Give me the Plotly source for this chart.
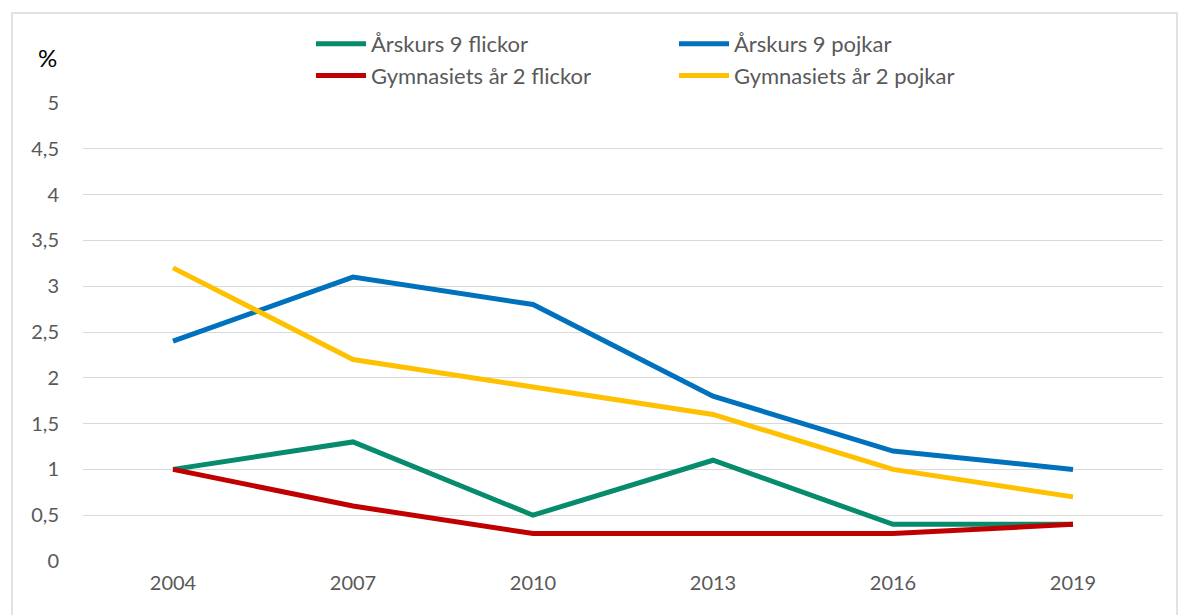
import plotly.graph_objects as go

years = ["2004", "2007", "2010", "2013", "2016", "2019"]
ak9_flickor = [1.0, 1.3, 0.5, 1.1, 0.4, 0.4]
ak9_pojkar = [2.4, 3.1, 2.8, 1.8, 1.2, 1.0]
gy2_flickor = [1.0, 0.6, 0.3, 0.3, 0.3, 0.4]
gy2_pojkar = [3.2, 2.2, 1.9, 1.6, 1.0, 0.7]

series = [
    ("Årskurs 9 flickor", ak9_flickor, "#068B6C"),
    ("Årskurs 9 pojkar", ak9_pojkar, "#0071BC"),
    ("Gymnasiets år 2 flickor", gy2_flickor, "#C00000"),
    ("Gymnasiets år 2 pojkar", gy2_pojkar, "#FFC000"),
]

W, H = 1178, 615
L, R, T, B = 83, 15, 103, 54
FONT = "Lato"

fig = go.Figure()
for name, vals, col in series:
    fig.add_trace(go.Scatter(x=years, y=vals, name=name, mode="lines",
                             line=dict(color=col, width=5)))

pw = W - L - R
ph = H - T - B
def px_x(x):
    return (x - L) / pw
def px_y(y):
    return (H - B - y) / ph

fig.update_layout(
    width=W, height=H,
    margin=dict(l=L, r=R, t=T, b=B, autoexpand=False),
    paper_bgcolor="white", plot_bgcolor="white",
    font=dict(family=FONT, color="#595959", size=20),
    showlegend=True,
    legend=dict(orientation="h", x=px_x(311), y=px_y(23), xanchor="left", yanchor="top",
                entrywidth=298, entrywidthmode="pixels", itemwidth=50,
                font=dict(size=22, color="#595959", family=FONT),
                tracegroupgap=0, bgcolor="rgba(0,0,0,0)"),
    xaxis=dict(type="category", range=[-0.5, 5.5], showgrid=False, zeroline=False, showline=False,
               ticks="", tickfont=dict(size=20, color="#595959"), ticklabelstandoff=8),
    yaxis=dict(range=[0, 5], dtick=0.5, showgrid=True, gridcolor="#D9D9D9", gridwidth=1,
               zeroline=False, showline=False, ticks="",
               tickformat=".1~f", tickfont=dict(size=20, color="#595959"), ticklabelstandoff=23),
    separators=", ",
    shapes=[dict(type="rect", xref="paper", yref="paper",
                 x0=px_x(12), x1=px_x(1177), y0=px_y(630), y1=px_y(13),
                 line=dict(color="#D9D9D9", width=1.5), fillcolor="rgba(0,0,0,0)", layer="below")],
    annotations=[dict(text="%", xref="paper", yref="paper", x=px_x(47), y=px_y(57),
                      xanchor="center", yanchor="middle",
                      showarrow=False, font=dict(size=24, color="#000000", family=FONT))],
)
fig.write_html("out.html", config={"displayModeBar": False},
               post_script="document.body.style.margin='0';")
